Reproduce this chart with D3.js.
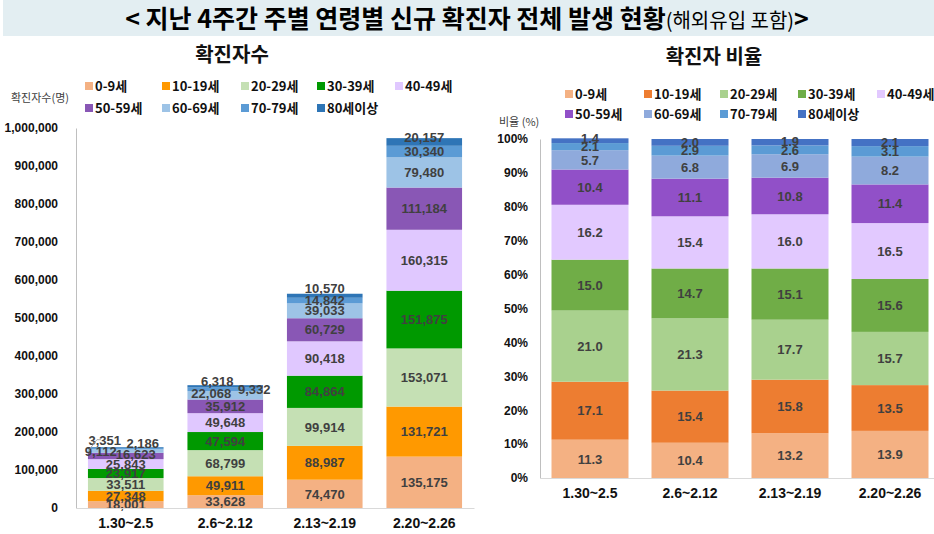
<!DOCTYPE html>
<html>
<head>
<meta charset="utf-8">
<title>연령별 신규 확진자 발생 현황</title>
<script src="https://cdn.jsdelivr.net/npm/d3@7"></script>
<style>
    body { margin: 0; background: #fff; font-family: "Noto Sans CJK KR", "Noto Sans", sans-serif; }
    svg text { font-family: "Noto Sans CJK KR", "Noto Sans", sans-serif; }
    .num { font-family: "Liberation Sans", Arial, sans-serif; font-weight: bold; }
</style>
</head>
<body>
<script>
// weeks and age groups
var weeks = ["1.30~2.5", "2.6~2.12", "2.13~2.19", "2.20~2.26"];
var ages = ["0-9세", "10-19세", "20-29세", "30-39세", "40-49세", "50-59세", "60-69세", "70-79세", "80세이상"];

// weekly case counts, one array per age group (in week order)
var cases0 = [18001, 33628, 74470, 135175];
var cases10 = [27348, 49911, 88987, 131721];
var cases20 = [33511, 68799, 99914, 153071];
var cases30 = [23917, 47594, 84864, 151875];
var cases40 = [25843, 49648, 90418, 160315];
var cases50 = [16623, 35912, 60729, 111184];
var cases60 = [9112, 22068, 39033, 79480];
var cases70 = [3351, 9332, 14842, 30340];
var cases80 = [2186, 6318, 10570, 20157];

// share of the week's cases (%)
var share0 = [11.3, 10.4, 13.2, 13.9];
var share10 = [17.1, 15.4, 15.8, 13.5];
var share20 = [21.0, 21.3, 17.7, 15.7];
var share30 = [15.0, 14.7, 15.1, 15.6];
var share40 = [16.2, 15.4, 16.0, 16.5];
var share50 = [10.4, 11.1, 10.8, 11.4];
var share60 = [5.7, 6.8, 6.9, 8.2];
var share70 = [2.1, 2.9, 2.6, 3.1];
var share80 = [1.4, 2.0, 1.9, 2.1];

var countTicks = [0, 100000, 200000, 300000, 400000, 500000, 600000, 700000, 800000, 900000, 1000000];
var shareTicks = [0, 10, 20, 30, 40, 50, 60, 70, 80, 90, 100];

var caseSeries = [cases0, cases10, cases20, cases30, cases40, cases50, cases60, cases70, cases80];
var shareSeries = [share0, share10, share20, share30, share40, share50, share60, share70, share80];

var countColors = ["#F4B183", "#FF9900", "#C5E0B4", "#009900", "#E0C8FF", "#8957B5", "#9DC3E6", "#5B9BD5", "#2E75B6"];
var shareColors = ["#F4B183", "#ED7D31", "#A9D18E", "#70AD47", "#E2C9FF", "#9150C8", "#8FAADC", "#5B9BD5", "#4472C4"];

// hand nudges for labels in the crowded thin segments: "week index|age index" -> [dx, dy]
var countNudge = {
    "0|5": [10, -2], "0|6": [-25, 0], "0|7": [-21, -8], "0|8": [17, -4],
    "1|6": [-14, -2], "1|7": [29, 0], "1|8": [-8, -5],
    "2|8": [0, -7], "3|8": [0, -5]
};
var shareNudge = { "0|8": [0, -2], "2|8": [0, -1] };

var W = 934, H = 534;
var svg = d3.select("body").append("svg").attr("width", W).attr("height", H);

// title banner
svg.append("rect").attr("x", 3).attr("y", 0).attr("width", W - 3).attr("height", 36).attr("fill", "#E3EEF2");
var title = svg.append("text").attr("x", W / 2).attr("y", 28).attr("text-anchor", "middle")
    .attr("fill", "#000");
title.append("tspan").attr("font-size", 25).attr("font-weight", "bold").text("< 지난 4주간 주별 연령별 신규 확진자 전체 발생 현황");
title.append("tspan").attr("font-size", 20).text("(해외유입 포함)");
title.append("tspan").attr("font-size", 25).attr("font-weight", "bold").text(">");

function stackRows(series) {
    return weeks.map(function (w, i) {
        var row = { week: w };
        ages.forEach(function (a, j) { row[a] = series[j][i]; });
        return row;
    });
}

function drawChart(opt) {
    var g = svg.append("g");
    var x = d3.scaleBand().domain(weeks).range([opt.x0, opt.x1]).paddingInner(opt.pad).paddingOuter(opt.pad / 2);
    var y = d3.scaleLinear().domain([0, opt.max]).range([opt.y0, opt.y1]);
    var color = d3.scaleOrdinal().domain(ages).range(opt.colors);
    var stack = d3.stack().keys(ages)(stackRows(opt.series));

    // subtitle
    g.append("text").attr("x", opt.titleX).attr("y", opt.titleY).attr("text-anchor", "middle")
        .attr("font-size", 20).attr("font-weight", "bold").attr("fill", "#111").text(opt.title);

    // unit label
    g.append("text").attr("x", opt.unitX).attr("y", opt.unitY).attr("font-size", 11)
        .attr("fill", "#404040").text(opt.unit);

    // legend
    var leg = g.selectAll(".leg").data(ages).enter().append("g")
        .attr("transform", function (d, i) {
            return "translate(" + opt.legX[i % 5] + "," + (i < 5 ? opt.legY[0] : opt.legY[1]) + ")";
        });
    leg.append("rect").attr("x", 0).attr("y", -4).attr("width", 8).attr("height", 8).attr("fill", function (d) { return color(d); });
    leg.append("text").attr("x", 10).attr("y", 5).attr("font-size", 13).attr("font-weight", "bold")
        .attr("fill", "#111").text(function (d) { return d; });

    // bars
    stack.forEach(function (layer, j) {
        g.selectAll(null).data(layer).enter().append("rect")
            .attr("x", function (d) { return x(d.data.week); })
            .attr("width", x.bandwidth())
            .attr("y", function (d) { return y(d[1]); })
            .attr("height", function (d) { return y(d[0]) - y(d[1]); })
            .attr("fill", color(ages[j]));
    });

    // value labels
    stack.forEach(function (layer, j) {
        layer.forEach(function (d, i) {
            var n = opt.nudge[i + "|" + j] || [0, 0];
            var v = d[1] - d[0];
            g.append("text").attr("class", "num")
                .attr("x", x(d.data.week) + x.bandwidth() / 2 + n[0])
                .attr("y", y((d[0] + d[1]) / 2) + n[1])
                .attr("dy", "0.36em").attr("text-anchor", "middle")
                .attr("font-size", opt.labelSize).attr("fill", "#404040")
                .text(opt.fmt(v));
        });
    });

    // axes
    var yAxis = d3.axisLeft(y).tickValues(opt.ticks).tickSize(0).tickPadding(opt.tickPad).tickFormat(opt.tickFmt);
    var ya = g.append("g").attr("transform", "translate(" + opt.x0 + ",0)").call(yAxis);
    ya.select(".domain").attr("stroke", "#BFBFBF");
    ya.selectAll("text").attr("class", "num").attr("font-size", 12).attr("fill", "#111");

    var xAxis = d3.axisBottom(x).tickSize(0).tickPadding(10);
    var xa = g.append("g").attr("transform", "translate(0," + opt.y0 + ")").call(xAxis);
    xa.select(".domain").attr("stroke", "#D9D9D9");
    xa.selectAll("text").attr("class", "num").attr("font-size", 14).attr("fill", "#111");

    return { x: x, y: y, stack: stack };
}

var left = drawChart({
    series: caseSeries, colors: countColors, max: 1000000, ticks: countTicks,
    x0: 76, x1: 474, y0: 508, y1: 128, pad: 0.24, tickPad: 18,
    tickFmt: d3.format(","), fmt: d3.format(","), labelSize: 13, nudge: countNudge,
    title: "확진자수", titleX: 232, titleY: 62,
    unit: "확진자수(명)", unitX: 11, unitY: 102,
    legX: [85, 162, 241, 317, 395], legY: [86, 108]
});

var right = drawChart({
    series: shareSeries, colors: shareColors, max: 100, ticks: shareTicks,
    x0: 540, x1: 940, y0: 478, y1: 139, pad: 0.23, tickPad: 12,
    tickFmt: function (d) { return d + "%"; }, fmt: d3.format(".1f"), labelSize: 13, nudge: shareNudge,
    title: "확진자 비율", titleX: 714, titleY: 64,
    unit: "비율 (%)", unitX: 499, unitY: 126,
    legX: [565, 644, 720, 798, 877], legY: [94, 114]
});

// leader line for the tiny 70-79 segment of the first week
var s = left.stack[7][0];
var bx = left.x(weeks[0]);
var by = left.y((s[0] + s[1]) / 2);
svg.append("path")
    .attr("d", d3.line()([[bx + 2, by], [bx + 9, by - 9], [bx + 13, by - 9]]))
    .attr("fill", "none").attr("stroke", "#A6A6A6").attr("stroke-width", 1);
</script>
</body>
</html>
